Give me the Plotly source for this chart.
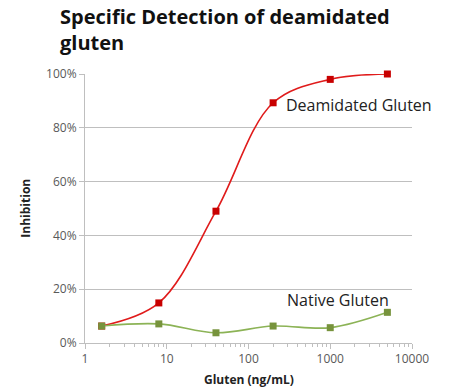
import plotly.graph_objects as go

gluten = [1.6, 8, 40, 200, 1000, 5000]
deamidated = [6.3, 14.9, 49.0, 89.3, 98.0, 100.0]
native = [6.3, 7.1, 3.8, 6.3, 5.7, 11.4]
x_ticks = [1, 10, 100, 1000, 10000]
x_tick_labels = ["1", "10", "100", "1000", "10000"]
y_ticks = [0, 20, 40, 60, 80, 100]
y_tick_labels = ["0%", "20%", "40%", "60%", "80%", "100%"]

font = "'Open Sans', sans-serif"

fig = go.Figure()
fig.add_trace(go.Scatter(
    x=gluten, y=deamidated, mode="lines+markers", name="Deamidated Gluten",
    line=dict(color="#E01B1B", width=1.6, shape="spline", smoothing=1.0),
    marker=dict(symbol="square", size=7, color="#C80000"),
    cliponaxis=False,
))
fig.add_trace(go.Scatter(
    x=gluten, y=native, mode="lines+markers", name="Native Gluten",
    line=dict(color="#8CB356", width=1.6, shape="spline", smoothing=1.0),
    marker=dict(symbol="square", size=7, color="#77933C"),
    cliponaxis=False,
))

fig.add_annotation(x=2.28, y=89.3, xref="x", yref="y", text="Deamidated Gluten",
                   showarrow=False, xanchor="left", yanchor="middle", xshift=13, yshift=-2,
                   font=dict(family=font, size=16, color="#222222"))
fig.add_annotation(x=2.28, y=16, xref="x", yref="y", text="Native Gluten",
                   showarrow=False, xanchor="left", yanchor="middle", xshift=14,
                   font=dict(family=font, size=16, color="#222222"))

# title
fig.add_annotation(x=-0.083, y=1.27, xref="paper", yref="paper",
                   text="<b>Specific Detection of deamidated<br>gluten</b>",
                   showarrow=False, xanchor="left", yanchor="top", align="left",
                   font=dict(family=font, size=20, color="#111111"))
# axis titles
fig.add_annotation(x=0.5, y=-0.1375, xref="paper", yref="paper",
                   text="<b>Gluten (ng/mL)</b>", showarrow=False,
                   xanchor="center", yanchor="middle",
                   font=dict(family=font, size=12, color="#222222"))
fig.add_annotation(x=-0.183, y=0.5, xref="paper", yref="paper",
                   text="<b>Inhibition</b>", showarrow=False, textangle=-90,
                   xanchor="center", yanchor="middle",
                   font=dict(family=font, size=12, color="#222222"))

fig.update_layout(
    width=452, height=387,
    margin=dict(l=85, r=40, t=74, b=44),
    paper_bgcolor="white", plot_bgcolor="white",
    showlegend=False,
    font=dict(family=font, color="#595959"),
)
fig.update_xaxes(
    type="log", range=[0, 4], automargin=False,
    tickvals=x_ticks, ticktext=x_tick_labels,
    showgrid=False, showline=True, linecolor="#BFBFBF", linewidth=1,
    ticks="outside", ticklen=5, tickcolor="#BFBFBF",
    minor=dict(ticks="outside", ticklen=3, tickcolor="#BFBFBF", dtick="D1", showgrid=False),
    tickfont=dict(size=12, color="#595959"),
    zeroline=False,
)
fig.update_yaxes(
    range=[0, 100], automargin=False,
    tickvals=y_ticks, ticktext=y_tick_labels,
    showgrid=True, gridcolor="#BFBFBF", gridwidth=1,
    showline=True, linecolor="#BFBFBF", linewidth=1,
    ticks="outside", ticklen=5, tickcolor="#BFBFBF",
    tickfont=dict(size=12, color="#595959"),
    zeroline=False,
)

fig.write_html("out.html", config={"displayModeBar": False},
               post_script="document.body.style.margin='0';")
